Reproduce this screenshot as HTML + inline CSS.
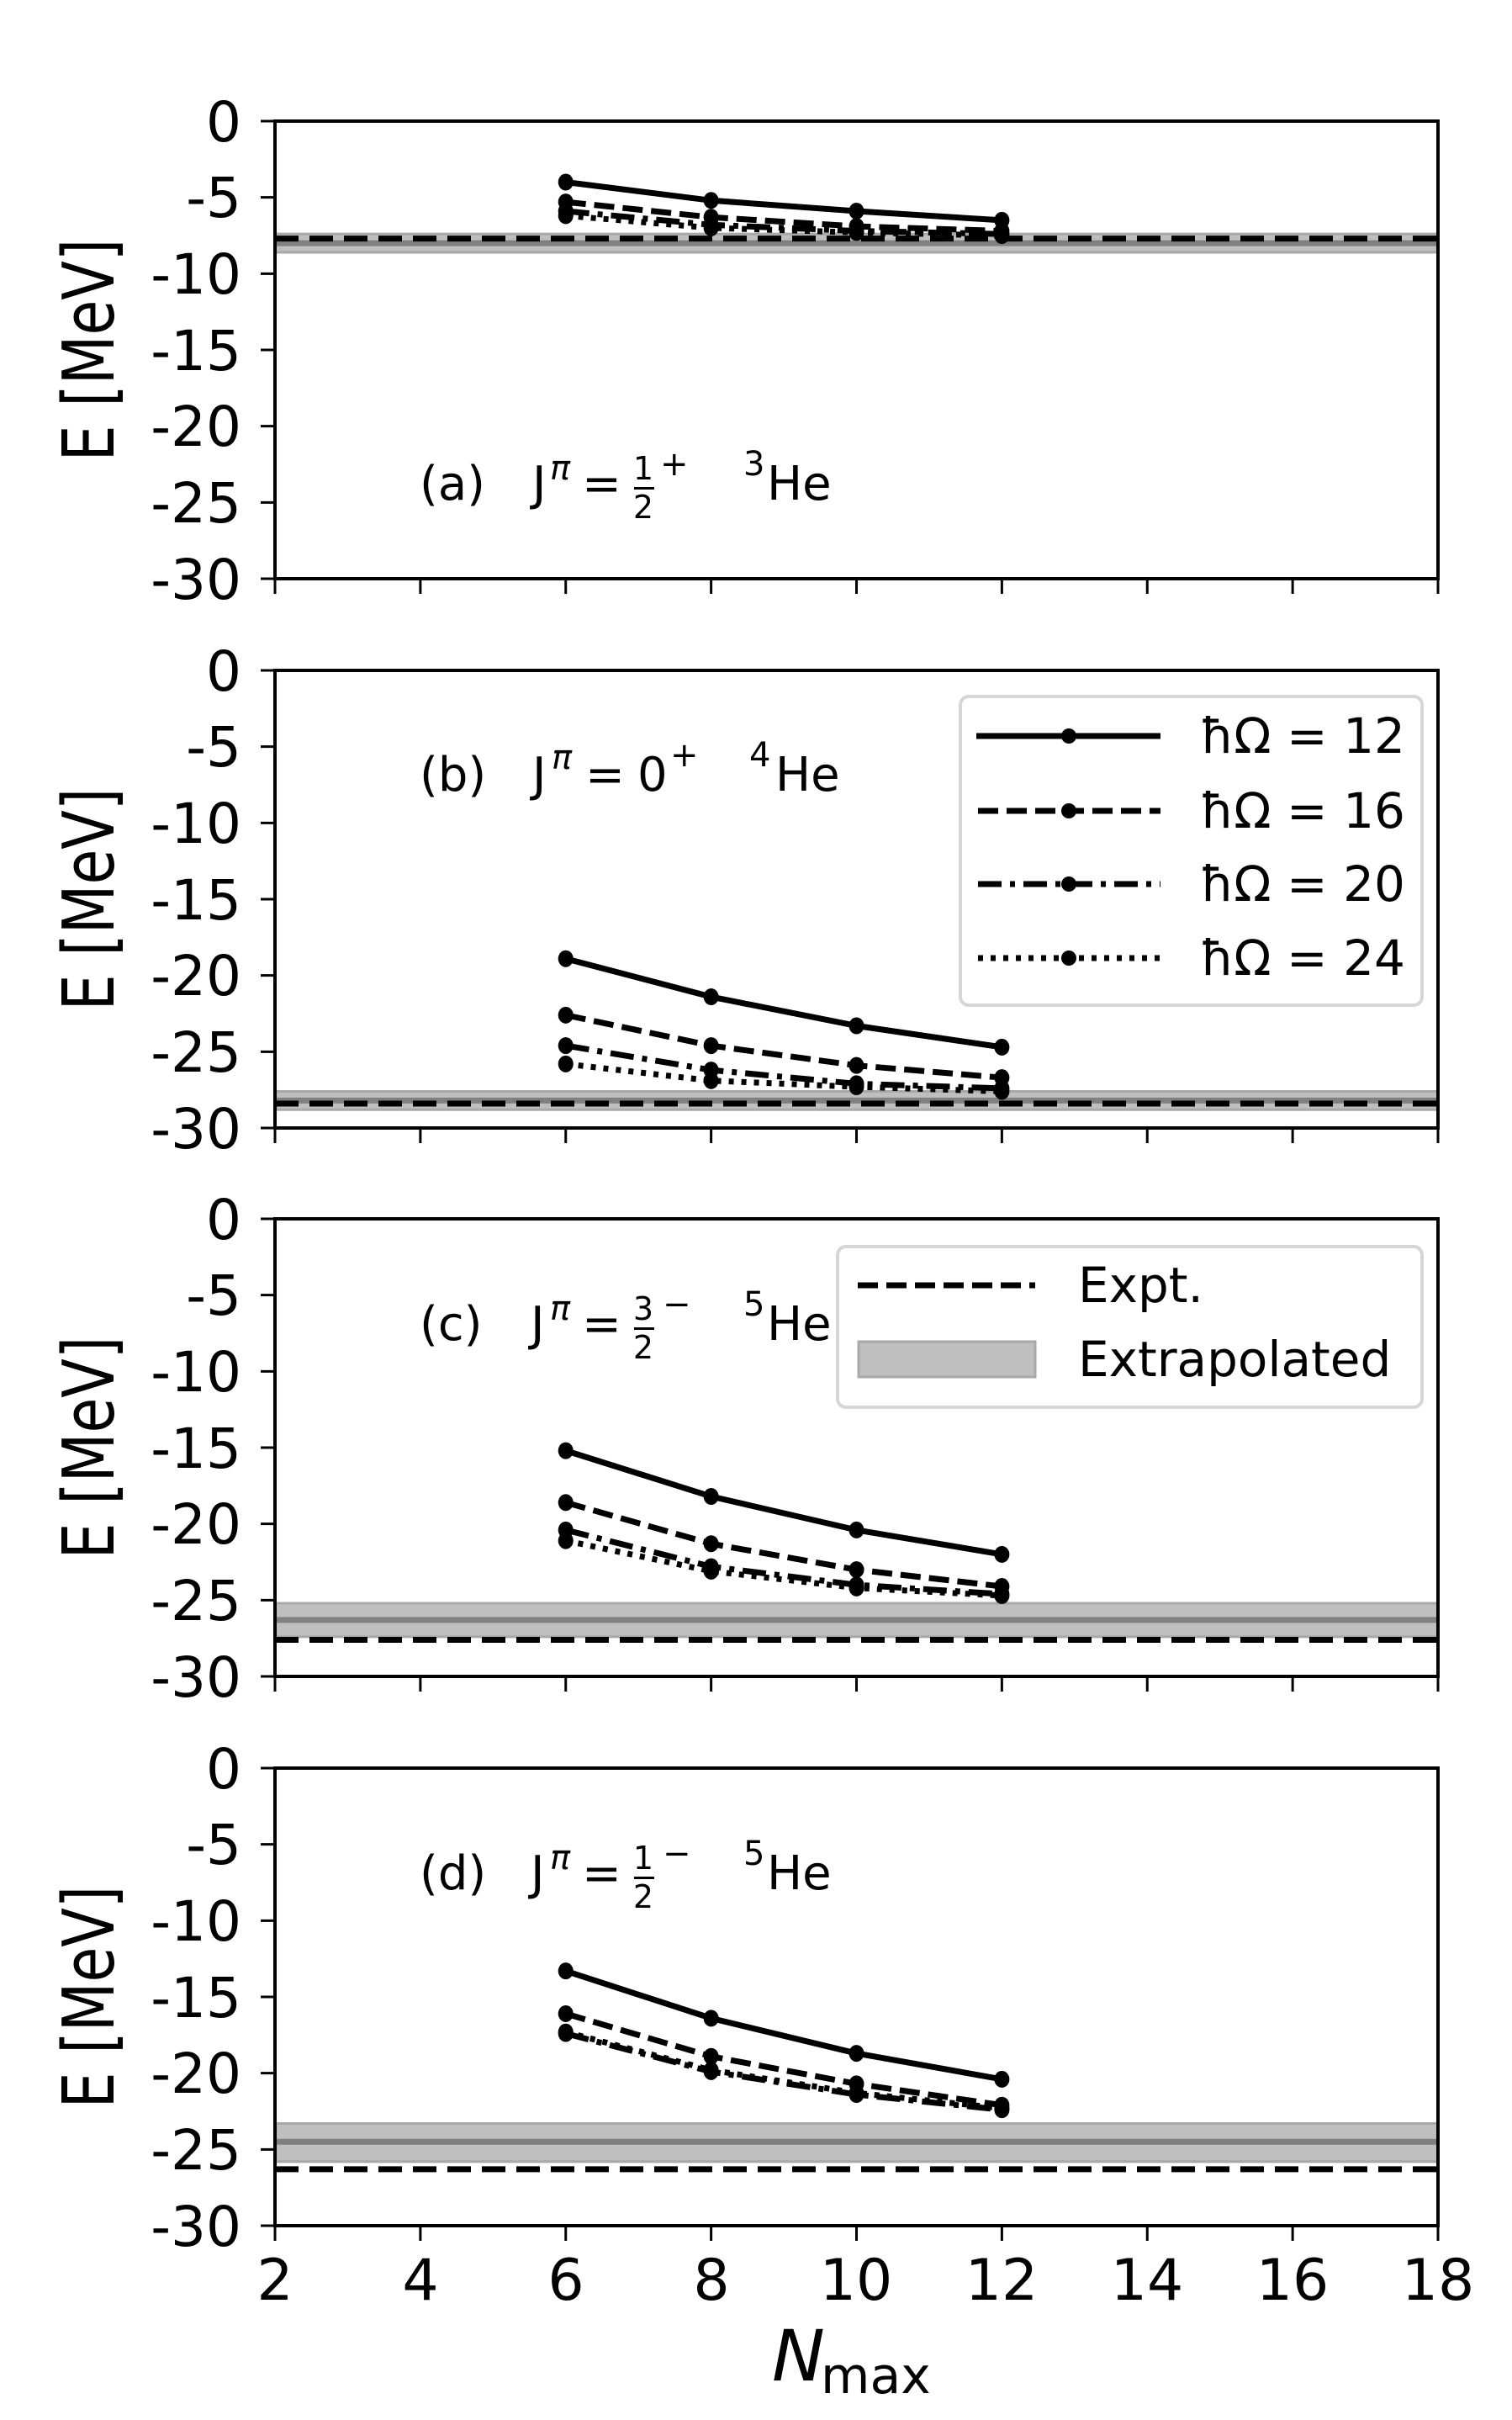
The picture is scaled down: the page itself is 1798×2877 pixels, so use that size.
<!DOCTYPE html>
<html><head><meta charset="utf-8">
<style>
html,body{margin:0;padding:0;background:#fff;}
svg{display:block;}
text{font-family:"DejaVu Sans","Liberation Sans",sans-serif;fill:#000;}
</style></head>
<body>
<svg id="s" width="1798" height="2877" viewBox="0 0 1798 2877" xmlns="http://www.w3.org/2000/svg">
<rect width="1798" height="2877" fill="#fff"/>
<g id="plots"></g>

<g font-size="68" text-anchor="middle">
<text transform="translate(135,416) rotate(-90) scale(1,1.25)">E [MeV]</text>
<text transform="translate(135,1069) rotate(-90) scale(1,1.25)">E [MeV]</text>
<text transform="translate(135,1721) rotate(-90) scale(1,1.25)">E [MeV]</text>
<text transform="translate(135,2374) rotate(-90) scale(1,1.25)">E [MeV]</text>
</g>

<g font-size="66" text-anchor="end">
<text x="287" y="168">0</text><text x="287" y="258">-5</text><text x="287" y="349">-10</text><text x="287" y="440">-15</text><text x="287" y="530">-20</text><text x="287" y="621">-25</text><text x="287" y="712">-30</text>
<text x="287" y="821">0</text><text x="287" y="911">-5</text><text x="287" y="1002">-10</text><text x="287" y="1093">-15</text><text x="287" y="1183">-20</text><text x="287" y="1274">-25</text><text x="287" y="1365">-30</text>
<text x="287" y="1473">0</text><text x="287" y="1563">-5</text><text x="287" y="1654">-10</text><text x="287" y="1745">-15</text><text x="287" y="1835">-20</text><text x="287" y="1926">-25</text><text x="287" y="2017">-30</text>
<text x="287" y="2126">0</text><text x="287" y="2216">-5</text><text x="287" y="2307">-10</text><text x="287" y="2398">-15</text><text x="287" y="2488">-20</text><text x="287" y="2579">-25</text><text x="287" y="2670">-30</text>
</g>
<g font-size="68" text-anchor="middle">
<text x="327" y="2734">2</text><text x="500" y="2734">4</text><text x="673" y="2734">6</text><text x="846" y="2734">8</text><text x="1018" y="2734">10</text><text x="1191" y="2734">12</text><text x="1364" y="2734">14</text><text x="1537" y="2734">16</text><text x="1710" y="2734">18</text>
</g>
<text x="918" y="2830" font-size="84" font-style="italic">N</text>
<text x="976" y="2845" font-size="60">max</text>

<g font-size="56">
<text x="499" y="594">(a)</text>
<text x="633" y="594">J</text><text x="654" y="570" font-size="40" font-style="italic">π</text>
<text x="692" y="594">=</text>
<text x="765" y="570" font-size="38" text-anchor="middle">1</text>
<rect x="754" y="579" width="24" height="3" fill="#000"/>
<text x="765" y="616" font-size="38" text-anchor="middle">2</text>
<text x="785" y="565" font-size="40">+</text>
<text x="884" y="565" font-size="40">3</text><text x="912" y="594">He</text>

<text x="499" y="940">(b)</text>
<text x="633" y="940">J</text><text x="656" y="914" font-size="40" font-style="italic">π</text>
<text x="696" y="940">=</text>
<text x="758" y="940">0</text>
<text x="797" y="911" font-size="40">+</text>
<text x="891" y="911" font-size="40">4</text><text x="922" y="940">He</text>

<text x="499" y="1593">(c)</text>
<text x="631" y="1593">J</text><text x="654" y="1569" font-size="40" font-style="italic">π</text>
<text x="692" y="1593">=</text>
<text x="765" y="1569" font-size="38" text-anchor="middle">3</text>
<rect x="754" y="1578" width="24" height="3" fill="#000"/>
<text x="765" y="1615" font-size="38" text-anchor="middle">2</text>
<text x="788" y="1564" font-size="40">−</text>
<text x="884" y="1564" font-size="40">5</text><text x="912" y="1593">He</text>

<text x="499" y="2246">(d)</text>
<text x="631" y="2246">J</text><text x="654" y="2222" font-size="40" font-style="italic">π</text>
<text x="692" y="2246">=</text>
<text x="765" y="2222" font-size="38" text-anchor="middle">1</text>
<rect x="754" y="2231" width="24" height="3" fill="#000"/>
<text x="765" y="2268" font-size="38" text-anchor="middle">2</text>
<text x="788" y="2217" font-size="40">−</text>
<text x="884" y="2217" font-size="40">5</text><text x="912" y="2246">He</text>
</g>

<g transform="translate(-7,0)">
<rect x="1149" y="828" width="549" height="367" rx="10" fill="#fff" fill-opacity="0.85" stroke="#d6d6d6" stroke-width="4"/>
<g stroke="#000" stroke-width="7" fill="none">
<line x1="1168" y1="875" x2="1387" y2="875"/>
<line x1="1170" y1="964" x2="1387" y2="964" stroke-dasharray="24,10"/>
<line x1="1170" y1="1051" x2="1387" y2="1051" stroke-dasharray="28,10,6,10"/>
<line x1="1170" y1="1139" x2="1387" y2="1139" stroke-dasharray="6,9"/>
</g>
<g fill="#000"><circle cx="1278" cy="875" r="9"/><circle cx="1278" cy="964" r="9"/><circle cx="1278" cy="1051" r="9"/><circle cx="1278" cy="1139" r="9"/></g>
<g font-size="58">
<text x="1434" y="895">ħΩ = 12</text>
<text x="1434" y="984">ħΩ = 16</text>
<text x="1434" y="1071">ħΩ = 20</text>
<text x="1434" y="1159">ħΩ = 24</text>
</g>
<rect x="1003" y="1482" width="695" height="191" rx="10" fill="#fff" fill-opacity="0.85" stroke="#d6d6d6" stroke-width="4"/>
<line x1="1027" y1="1528" x2="1238" y2="1528" stroke="#000" stroke-width="7" stroke-dasharray="24,10"/>
<rect x="1028" y="1595" width="210" height="42" fill="#bfbfbf" stroke="#a8a8a8" stroke-width="3"/>
<g font-size="58">
<text x="1289" y="1548">Expt.</text>
<text x="1289" y="1636">Extrapolated</text>
</g>
</g>
</svg>
<script>
(function(){
var NS="http://www.w3.org/2000/svg",g=document.getElementById("plots");
function el(t,a){var e=document.createElementNS(NS,t);for(var k in a)e.setAttribute(k,a[k]);g.appendChild(e);return e;}
var L=327,R=1710,H=544,tops=[144,797,1449,2102];
function X(n){return L+(n-2)*(R-L)/16;}
var data=[
{s:[[-4.0,-5.2,-5.9,-6.5],[-5.3,-6.3,-6.9,-7.2],[-5.9,-6.8,-7.2,-7.4],[-6.2,-7.0,-7.3,-7.5]],ex:-7.7,b:[-7.4,-8.6,-8.0]},
{s:[[-18.9,-21.4,-23.3,-24.7],[-22.6,-24.6,-25.9,-26.7],[-24.6,-26.2,-27.1,-27.4],[-25.8,-26.9,-27.3,-27.6]],ex:-28.4,b:[-27.6,-28.8,-28.2]},
{s:[[-15.2,-18.2,-20.4,-22.0],[-18.6,-21.3,-23.0,-24.1],[-20.4,-22.8,-24.0,-24.6],[-21.1,-23.1,-24.2,-24.7]],ex:-27.6,b:[-25.2,-27.4,-26.3]},
{s:[[-13.3,-16.4,-18.7,-20.4],[-16.1,-18.9,-20.7,-22.1],[-17.4,-19.9,-21.4,-22.4],[-17.3,-19.8,-21.3,-22.3]],ex:-26.3,b:[-23.3,-25.8,-24.5]}];
var dashes=["none","24,10","28,10,6,10","6,9"];
tops.forEach(function(T,i){
 function Y(v){return T-v*H/30;}
 var d=data[i];
 el("rect",{x:L,y:Y(d.b[0]),width:R-L,height:Y(d.b[1])-Y(d.b[0]),fill:"#bfbfbf"});
 el("line",{x1:L,x2:R,y1:Y(d.b[0]),y2:Y(d.b[0]),stroke:"#a8a8a8","stroke-width":3});
 el("line",{x1:L,x2:R,y1:Y(d.b[1]),y2:Y(d.b[1]),stroke:"#a8a8a8","stroke-width":3});
 el("line",{x1:L,x2:R,y1:Y(d.b[2]),y2:Y(d.b[2]),stroke:"#808080","stroke-width":7});
 el("line",{x1:L,x2:R,y1:Y(d.ex),y2:Y(d.ex),stroke:"#000","stroke-width":7,"stroke-dasharray":"28,13"});
 d.s.forEach(function(s,j){
  var p=s.map(function(v,k){return X(6+2*k)+","+Y(v);}).join(" ");
  var a={points:p,fill:"none",stroke:"#000","stroke-width":7};
  if(j>0)a["stroke-dasharray"]=dashes[j];
  el("polyline",a);
  s.forEach(function(v,k){el("ellipse",{cx:X(6+2*k),cy:Y(v),rx:9,ry:10,fill:"#000"});});
 });
 el("rect",{x:L,y:T,width:R-L,height:H,fill:"none",stroke:"#000","stroke-width":4});
 for(var k=0;k<=6;k++){var y=T+k*H/6;el("line",{x1:L-17,x2:L,y1:y,y2:y,stroke:"#000","stroke-width":3});}
 for(var n=2;n<=18;n+=2){el("line",{x1:X(n),x2:X(n),y1:T+H,y2:T+H+18,stroke:"#000","stroke-width":3});}
});
})();
</script>
</body></html>
